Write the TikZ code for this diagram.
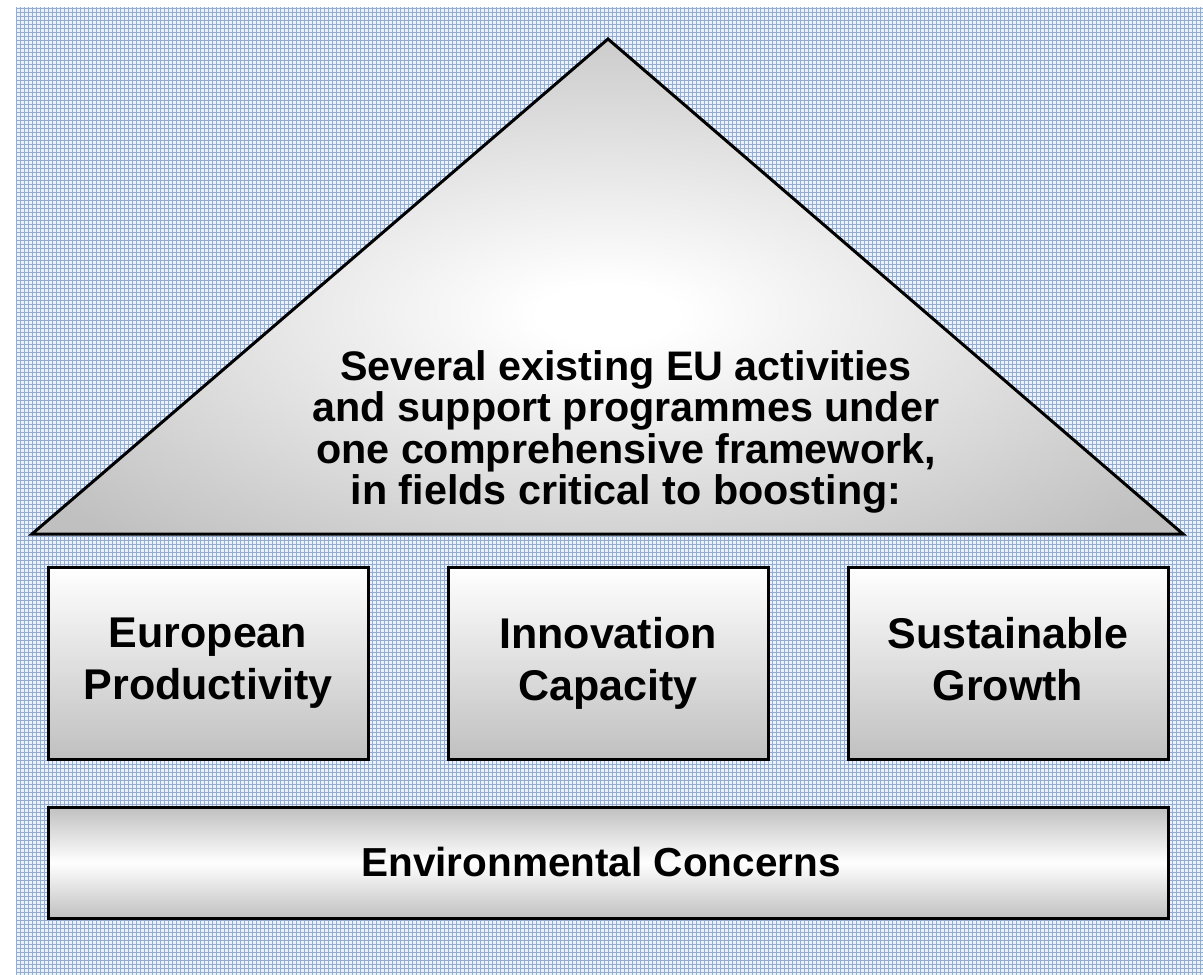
\documentclass[tikz,border=0pt]{standalone}
\usepackage{fontspec}
\setmainfont{Liberation Sans}
\definecolor{shgray}{RGB}{192,192,192}
\definecolor{bgfill}{RGB}{238,242,248}
\definecolor{bgline}{RGB}{150,172,205}
\pgfdeclareradialshading{tri}{\pgfpoint{0bp}{-3bp}}{color(0bp)=(white); color(3bp)=(white); color(32bp)=(shgray); color(50bp)=(shgray)}
\tikzset{
  box/.style={draw=black, line width=3pt, top color=white, bottom color=shgray, minimum width=320pt, minimum height=192pt, align=center, inner sep=0pt, font=\bfseries\fontsize{43}{52}\selectfont},
  bar/.style={draw=black, line width=3pt, top color=shgray, bottom color=shgray, middle color=white, minimum width=1120pt, minimum height=111pt, inner sep=0pt},
  bartext/.style={inner sep=0pt, font=\bfseries\fontsize{40.5}{52}\selectfont},
  tritext/.style={align=center, inner sep=0pt, font=\bfseries\fontsize{41.3}{41.5}\selectfont},
}
\begin{document}
\begin{tikzpicture}[x=1pt,y=-1pt]
\useasboundingbox (0,0) rectangle (1203,975);
\fill[bgfill] (16,7) rectangle (1203,975);
\draw[bgline, line width=0.8pt, step=4pt] (16,7) grid (1203,975);
\shade[shading=tri, draw=black, line width=3pt] (608,39) coordinate (apex) -- (1183,534) coordinate (rc) -- (32,534) coordinate (lc) -- cycle;
\node[tritext] (tt) at (626,432) {Several existing EU activities\\and support programmes under\\one comprehensive framework,\\in fields critical to boosting:};
\node[box] (ep) at (208,663) {European\\Productivity};
\node[box] (ic) at (608,663) {Innovation\\Capacity};
\node[box] (sg) at (1008,663) {Sustainable\\Growth\vphantom{y}};
\node[bar] (ec) at (608,862.5) {};
\node[bartext] (ect) at (601,862.5) {Environmental Concerns};
\end{tikzpicture}
\end{document}
